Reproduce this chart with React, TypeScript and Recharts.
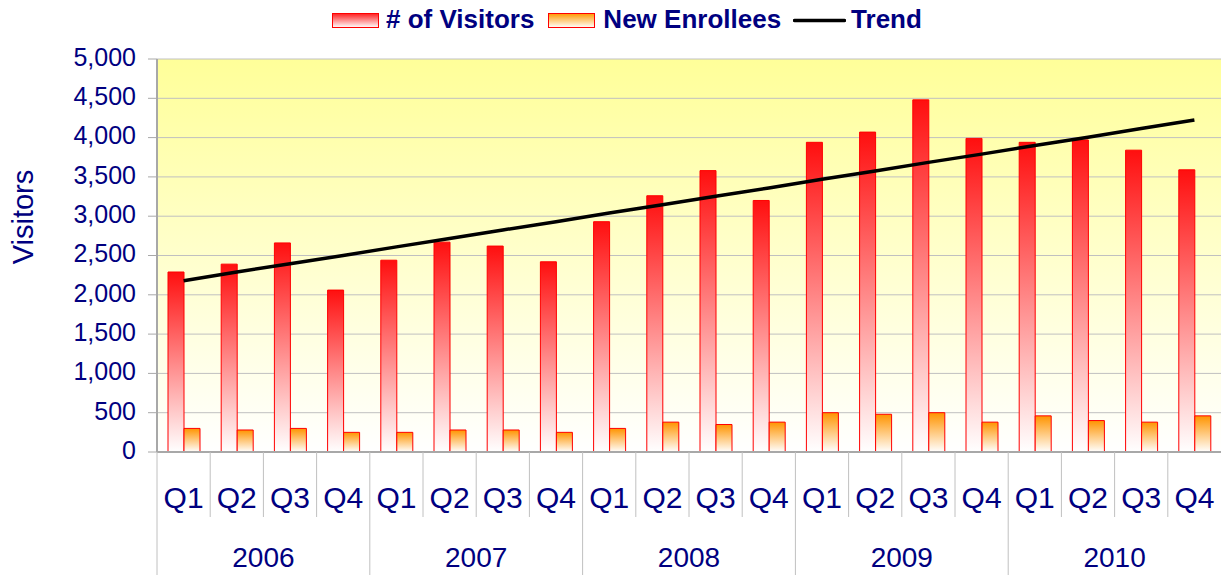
import { ComposedChart, Bar, Line, XAxis, YAxis, CartesianGrid, Legend } from 'recharts';

const quarters = ['Q1', 'Q2', 'Q3', 'Q4', 'Q1', 'Q2', 'Q3', 'Q4', 'Q1', 'Q2', 'Q3', 'Q4', 'Q1', 'Q2', 'Q3', 'Q4', 'Q1', 'Q2', 'Q3', 'Q4'];
const years = ['2006', '2006', '2006', '2006', '2007', '2007', '2007', '2007', '2008', '2008', '2008', '2008', '2009', '2009', '2009', '2009', '2010', '2010', '2010', '2010'];
const visitors = [2290, 2390, 2660, 2060, 2440, 2670, 2620, 2420, 2930, 3260, 3580, 3200, 3940, 4070, 4480, 3990, 3940, 3970, 3840, 3590];
const enrollees = [300, 280, 300, 250, 250, 280, 280, 250, 300, 380, 350, 380, 500, 480, 500, 380, 460, 400, 380, 460];
const trend = [2180, 2290, 2395, 2500, 2610, 2715, 2825, 2930, 3040, 3145, 3255, 3360, 3470, 3575, 3685, 3790, 3900, 4005, 4115, 4225];
const yTicks = [0, 500, 1000, 1500, 2000, 2500, 3000, 3500, 4000, 4500, 5000];

const data = quarters.map((q, i) => ({
  q,
  year: years[i],
  visitors: visitors[i],
  enrollees: enrollees[i],
  trend: trend[i],
}));

const NAVY = '#000080';
const FONT = '"Liberation Sans", Arial, sans-serif';
const SEP = '#c0c0c0';

function QuarterTick(props: any) {
  const { x, y, payload } = props;
  const half = payload?.offset || 26.6;
  return (
    <g>
      <line x1={x - half} x2={x - half} y1={y - 8} y2={y + 57} stroke={SEP} strokeWidth={1} />
      <text x={x} y={y + 37} textAnchor="middle" dominantBaseline="central" fill={NAVY} fontSize={30} fontFamily={FONT}>
        {payload.value}
      </text>
    </g>
  );
}

function YearTick(props: any) {
  const { x, y, payload, index } = props;
  const half = payload?.offset || 26.6;
  if (index % 4 !== 0) return <g />;
  return (
    <g>
      <line x1={x - half} x2={x - half} y1={y - 8} y2={y + 60} stroke={SEP} strokeWidth={1} />
      <text x={x + half * 3} y={y + 32} textAnchor="middle" dominantBaseline="central" fill={NAVY} fontSize={28} fontFamily={FONT}>
        {years[index]}
      </text>
    </g>
  );
}

function LegendContent() {
  const txt = { color: NAVY, fontWeight: 700, fontSize: 26, fontFamily: FONT, lineHeight: '30px' } as const;
  return (
    <div style={{ display: 'flex', alignItems: 'center', height: 38 }}>
      <svg width={47} height={15} style={{ marginTop: 3 }}>
        <defs>
          <linearGradient id="lgVis" x1="0" y1="0" x2="0" y2="1">
            <stop offset="0%" stopColor="#ff2020" />
            <stop offset="100%" stopColor="#ffffff" />
          </linearGradient>
        </defs>
        <rect x={0.5} y={0.5} width={46} height={14} fill="url(#lgVis)" stroke="#ff0000" />
      </svg>
      <span style={{ ...txt, marginLeft: 7 }}># of Visitors</span>
      <svg width={47} height={15} style={{ marginLeft: 14, marginTop: 3 }}>
        <defs>
          <linearGradient id="lgEnr" x1="0" y1="0" x2="0" y2="1">
            <stop offset="0%" stopColor="#ff9900" />
            <stop offset="100%" stopColor="#ffffff" />
          </linearGradient>
        </defs>
        <rect x={0.5} y={0.5} width={46} height={14} fill="url(#lgEnr)" stroke="#ff0000" />
      </svg>
      <span style={{ ...txt, marginLeft: 8 }}>New Enrollees</span>
      <svg width={53} height={15} style={{ marginLeft: 12, marginTop: 3 }}>
        <line x1={1.5} x2={51.5} y1={7.5} y2={7.5} stroke="#000" strokeWidth={3.5} strokeLinecap="round" />
      </svg>
      <span style={{ ...txt, marginLeft: 5 }}>Trend</span>
    </div>
  );
}

export default function App() {
  return (
    <div style={{ position: 'absolute', left: 0, top: 0, width: 1221, height: 575, background: '#fff' }}>
      <ComposedChart
        width={1221}
        height={575}
        data={data}
        margin={{ top: 19, right: 0, bottom: 0, left: 0 }}
        barGap={0}
      >
        <defs>
          <linearGradient id="bgGrad" x1="0" y1="0" x2="0" y2="1">
            <stop offset="0%" stopColor="#ffff99" />
            <stop offset="100%" stopColor="#ffffff" />
          </linearGradient>
          <linearGradient id="visGrad" x1="0" y1="0" x2="0" y2="1">
            <stop offset="0%" stopColor="#ff0f0f" />
            <stop offset="100%" stopColor="#ffffff" />
          </linearGradient>
          <linearGradient id="enrGrad" x1="0" y1="0" x2="0" y2="1">
            <stop offset="0%" stopColor="#ff9400" />
            <stop offset="100%" stopColor="#ffffff" />
          </linearGradient>
        </defs>
        <Legend
          verticalAlign="top"
          height={40}
          content={<LegendContent />}
          wrapperStyle={{ top: 0, left: 332, width: 800, height: 40 }}
        />
        <CartesianGrid vertical={false} stroke={SEP} fill="url(#bgGrad)" />
        <XAxis
          dataKey="q"
          interval={0}
          height={65}
          tickLine={false}
          axisLine={{ stroke: '#a8a8a8', strokeWidth: 2 }}
          tick={<QuarterTick />}
        />
        <XAxis
          xAxisId="year"
          dataKey="year"
          allowDuplicatedCategory
          interval={0}
          height={58}
          tickLine={false}
          axisLine={false}
          tick={<YearTick />}
        />
        <YAxis
          width={157}
          domain={[0, 5000]}
          ticks={yTicks}
          interval={0}
          tickFormatter={(v: number) => v.toLocaleString('en-US')}
          tick={{ fill: NAVY, fontSize: 25, fontFamily: FONT, dy: -2 }}
          tickSize={9}
          tickMargin={12}
          tickLine={{ stroke: '#a8a8a8' }}
          axisLine={{ stroke: '#a8a8a8', strokeWidth: 2 }}
          label={() => (
            <text
              x={23}
              y={217}
              transform="rotate(-90 23 217)"
              textAnchor="middle"
              dominantBaseline="central"
              fill={NAVY}
              fontSize={29}
              fontFamily={FONT}
            >
              Visitors
            </text>
          )}
        />
        <Bar dataKey="visitors" name="# of Visitors" barSize={16} fill="url(#visGrad)" stroke="#ff0000" strokeWidth={1} isAnimationActive={false} />
        <Bar dataKey="enrollees" name="New Enrollees" barSize={16} fill="url(#enrGrad)" stroke="#ff0000" strokeWidth={1} isAnimationActive={false} />
        <Line dataKey="trend" name="Trend" type="linear" stroke="#000000" strokeWidth={3.5} dot={false} activeDot={false} isAnimationActive={false} />
      </ComposedChart>
    </div>
  );
}
